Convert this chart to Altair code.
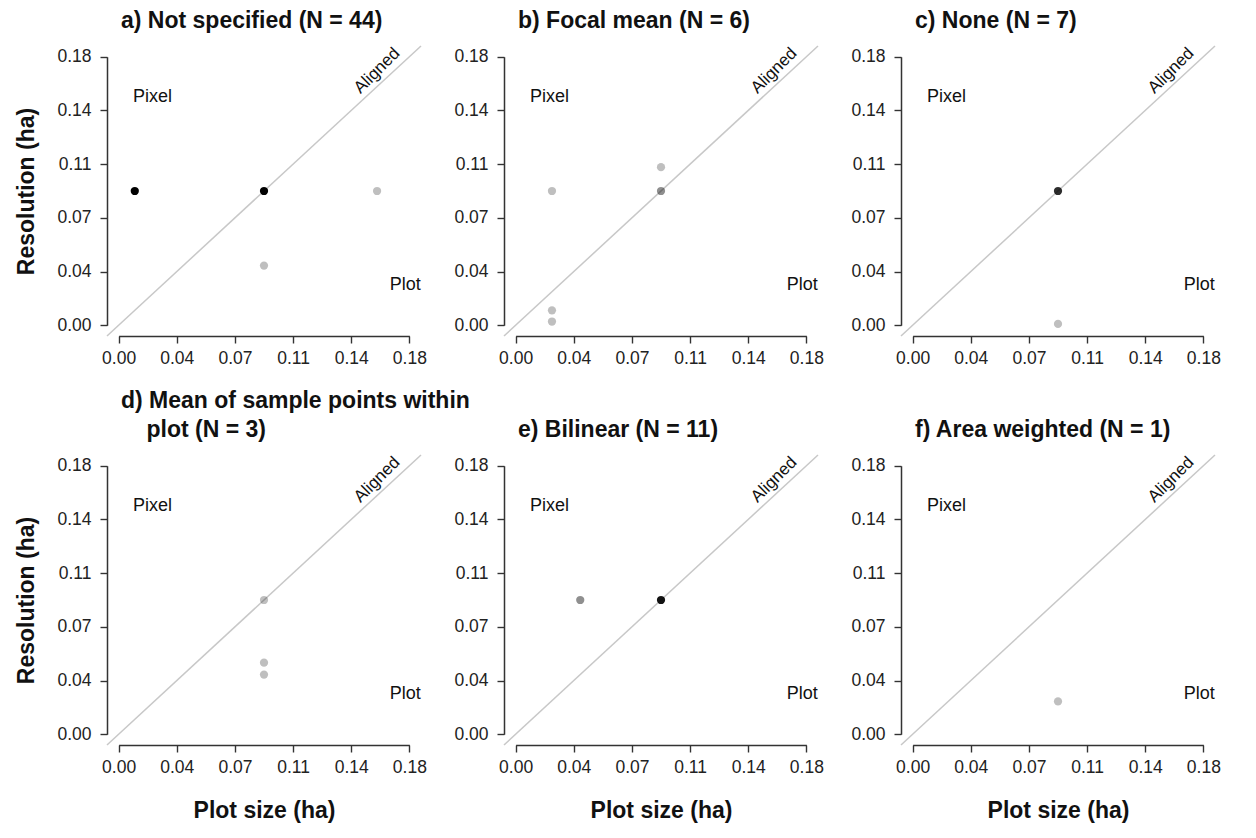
import altair as alt
import pandas as pd

# ---- data ----
titles = [
    "a) Not specified (N = 44)",
    "b) Focal mean (N = 6)",
    "c) None (N = 7)",
    ["d) Mean of sample points within", "\u200b\u00a0\u00a0\u00a0\u00a0plot (N = 3)"],
    "e) Bilinear (N = 11)",
    "f) Area weighted (N = 1)",
]
plot_size = [
    [0.01, 0.09, 0.16, 0.09],
    [0.0225, 0.09, 0.09, 0.0225, 0.0225],
    [0.09, 0.09],
    [0.09, 0.09, 0.09],
    [0.04, 0.09],
    [0.09],
]
resolution = [
    [0.09, 0.09, 0.09, 0.04],
    [0.09, 0.106, 0.09, 0.01, 0.0025],
    [0.09, 0.0009],
    [0.09, 0.048, 0.04],
    [0.09, 0.09],
    [0.022],
]
studies = [
    [21, 21, 1, 1],
    [1, 1, 2, 1, 1],
    [6, 1],
    [1, 1, 1],
    [2, 9],
    [1],
]
tick_values = [0.0, 0.036, 0.072, 0.108, 0.144, 0.18]
axis_range = [-0.0072, 0.1872]
region_labels = ["Pixel", "Plot"]
region_x = [0.021, 0.1775]
region_y = [0.153, 0.027]
diag_label = "Aligned"
diag_label_x = [0.160]
diag_label_y = [0.1706]

FONT = "Liberation Sans"
W, H = 314, 290

# axis line drawn only between the first and last tick (R style)
frac = (tick_values[-1] - tick_values[0]) / (axis_range[1] - axis_range[0])


def dash(length):
    seg = length * frac
    pad = (length - seg) / 2
    gap = 2000
    return [seg, gap], seg + gap - pad


x_dash, x_off = dash(W)
y_dash, y_off = dash(H)


def panel(i):
    left = i % 3 == 0
    bottom = i >= 3
    sx = alt.Scale(domain=axis_range, nice=False, zero=False)
    sy = alt.Scale(domain=axis_range, nice=False, zero=False)
    xaxis = alt.Axis(values=tick_values, format=".2f",
                     domainDash=x_dash, domainDashOffset=x_off,
                     title="Plot size (ha)" if bottom else None)
    yaxis = alt.Axis(values=tick_values, format=".2f",
                     domainDash=y_dash, domainDashOffset=y_off,
                     title="Resolution (ha)" if left else None)

    def X(f):
        return alt.X(f, scale=sx, axis=xaxis)

    def Y(f):
        return alt.Y(f, scale=sy, axis=yaxis)

    pts = pd.DataFrame({"x": plot_size[i], "y": resolution[i], "n": studies[i]})
    points = alt.Chart(pts).transform_calculate(
        op="1 - pow(0.75, datum.n)"
    ).mark_circle(size=68, color="black").encode(
        x=X("x:Q"),
        y=Y("y:Q"),
        opacity=alt.Opacity("op:Q", scale=None),
    )

    diag_df = pd.DataFrame({"x": axis_range, "y": axis_range})
    diag = alt.Chart(diag_df).mark_line(color="#c8c8c8", strokeWidth=1.5).encode(
        x=X("x:Q"),
        y=Y("y:Q"),
    )

    lab_df = pd.DataFrame({"x": region_x, "y": region_y, "t": region_labels})
    labels = alt.Chart(lab_df).mark_text(
        font=FONT, fontSize=18, color="#111111", baseline="middle", align="center"
    ).encode(
        x=X("x:Q"),
        y=Y("y:Q"),
        text="t:N",
    )
    al_df = pd.DataFrame({"x": diag_label_x, "y": diag_label_y, "t": [diag_label]})
    aligned = alt.Chart(al_df).mark_text(
        font=FONT, fontSize=17, color="#111111", angle=315,
        baseline="middle", align="center"
    ).encode(
        x=X("x:Q"),
        y=Y("y:Q"),
        text="t:N",
    )

    return alt.layer(diag, points, labels, aligned).properties(
        width=W, height=H,
        title=alt.TitleParams(
            text=titles[i], anchor="start", frame="group", dx=14, dy=24.5,
            fontSize=23, fontWeight="bold", font=FONT, baseline="alphabetic",
            offset=16.5, lineHeight=29, color="#111111",
        ),
    )


chart = alt.concat(
    *[panel(i) for i in range(6)],
    columns=3,
    spacing={"row": 119, "column": 83},
    bounds="flush",
).properties(
    padding={"left": 15, "top": 10, "right": 5, "bottom": 5},
    background="white",
).configure_view(stroke=None).configure_axis(
    domain=True, domainColor="#333333", domainWidth=1.5,
    grid=False, ticks=True, tickSize=7, tickWidth=1.4,
    tickColor="#333333", labelFont=FONT, labelFontSize=17.5,
    labelColor="#222222", labelFlush=False, titleFont=FONT,
    titleFontSize=23, titleFontWeight="bold", titleColor="#111111",
).configure_axisY(labelPadding=9, titlePadding=18).configure_axisX(
    labelPadding=6.5, titlePadding=23.5
)

chart.save("out.html", embed_options={"renderer": "svg", "actions": False})
